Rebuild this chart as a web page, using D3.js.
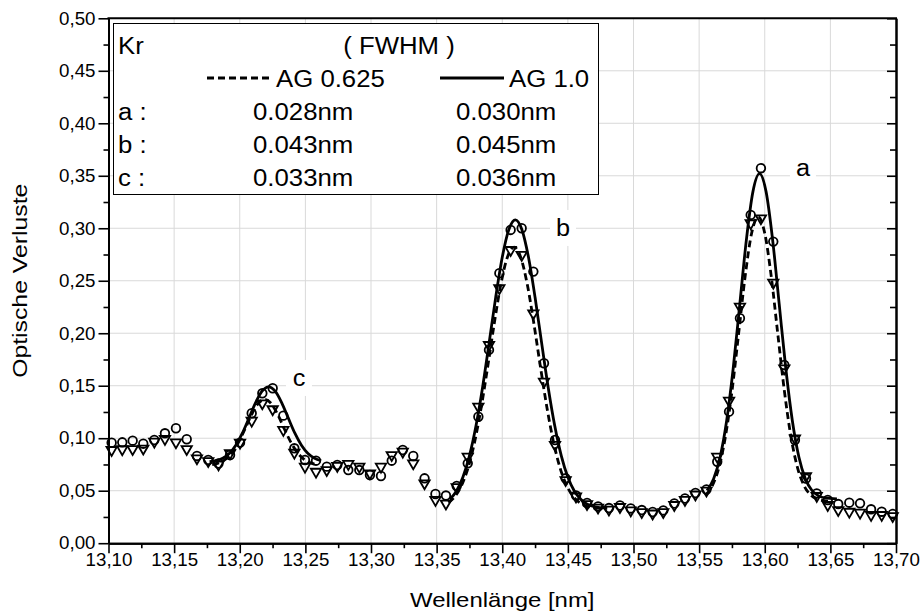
<!DOCTYPE html>
<html>
<head>
<meta charset="utf-8">
<script src="https://cdn.jsdelivr.net/npm/d3@7"></script>
<style>
	body { margin: 0; background: #fff; }
	svg text { font-family: "Liberation Sans", Arial, sans-serif; fill: #000; }
</style>
</head>
<body>
<svg id="chart" width="921" height="614"></svg>
<script>
var wavelength = [13.1024, 13.1105, 13.1184, 13.1265, 13.1349, 13.1430, 13.1514, 13.1596, 13.1674, 13.1760,
	13.1838, 13.1926, 13.2002, 13.2091, 13.2172, 13.2251, 13.2332, 13.2416, 13.2497, 13.2581,
	13.2663, 13.2743, 13.2827, 13.2911, 13.2992, 13.3076, 13.3158, 13.3242, 13.3322, 13.3408,
	13.3491, 13.3571, 13.3653, 13.3737, 13.3818, 13.3899, 13.3978, 13.4064, 13.4148, 13.4237,
	13.4318, 13.4402, 13.4483, 13.4562, 13.4646, 13.4730, 13.4813, 13.4897, 13.4979, 13.5063,
	13.5146, 13.5227, 13.5311, 13.5392, 13.5472, 13.5556, 13.5638, 13.5728, 13.5811, 13.5893,
	13.5971, 13.6065, 13.6149, 13.6230, 13.6314, 13.6396, 13.6480, 13.6560, 13.6644, 13.6726,
	13.6810, 13.6891, 13.6975];
// circles (AG 1.0)
var lossAG10 = [0.0958, 0.0961, 0.0977, 0.0948, 0.0983, 0.1047, 0.1095, 0.0990, 0.0831, 0.0793,
	0.0759, 0.0840, 0.0958, 0.1238, 0.1428, 0.1476, 0.1215, 0.0904, 0.0793, 0.0786,
	0.0729, 0.0745, 0.0697, 0.0697, 0.0650, 0.0640, 0.0786, 0.0888, 0.0831, 0.0618,
	0.0469, 0.0454, 0.0545, 0.0761, 0.1205, 0.1841, 0.2572, 0.2984, 0.3000, 0.2587,
	0.1714, 0.0983, 0.0618, 0.0454, 0.0383, 0.0350, 0.0335, 0.0359, 0.0331, 0.0316,
	0.0297, 0.0312, 0.0378, 0.0426, 0.0478, 0.0512, 0.0776, 0.1253, 0.2143, 0.3127,
	0.3572, 0.2873, 0.1698, 0.0983, 0.0616, 0.0475, 0.0412, 0.0373, 0.0386, 0.0380,
	0.0323, 0.0300, 0.0278];
// triangles (AG 0.625)
var lossAG0625 = [0.0888, 0.0895, 0.0897, 0.0902, 0.0967, 0.0993, 0.0961, 0.0897, 0.0809, 0.0783,
	0.0750, 0.0857, 0.0958, 0.1167, 0.1333, 0.1276, 0.1079, 0.0862, 0.0729, 0.0681,
	0.0697, 0.0736, 0.0755, 0.0729, 0.0666, 0.0729, 0.0840, 0.0872, 0.0761, 0.0571,
	0.0412, 0.0378, 0.0535, 0.0824, 0.1301, 0.1888, 0.2429, 0.2793, 0.2746, 0.2190,
	0.1539, 0.0936, 0.0602, 0.0445, 0.0373, 0.0340, 0.0321, 0.0345, 0.0312, 0.0297,
	0.0283, 0.0297, 0.0364, 0.0412, 0.0464, 0.0502, 0.0824, 0.1358, 0.2253, 0.3048,
	0.3095, 0.2482, 0.1666, 0.0999, 0.0640, 0.0450, 0.0364, 0.0316, 0.0300, 0.0291,
	0.0269, 0.0269, 0.0259];

// fitted curves
var fitC10X = [13.177, 13.182, 13.187, 13.192, 13.197, 13.202, 13.207, 13.212, 13.217, 13.222, 13.227, 13.232, 13.237, 13.242, 13.247, 13.252, 13.257, 13.262];
var fitC10Y = [0.0776, 0.0786, 0.0809, 0.0854, 0.0933, 0.1048, 0.1191, 0.1337, 0.1448, 0.1490, 0.1448, 0.1337, 0.1191, 0.1048, 0.0933, 0.0854, 0.0809, 0.0786];
var fitC0625X = [13.179, 13.184, 13.189, 13.194, 13.199, 13.204, 13.209, 13.214, 13.219, 13.224, 13.229, 13.234, 13.239, 13.244, 13.249, 13.254, 13.259];
var fitC0625Y = [0.0749, 0.0765, 0.0799, 0.0862, 0.0960, 0.1088, 0.1224, 0.1330, 0.1370, 0.1330, 0.1224, 0.1088, 0.0960, 0.0862, 0.0799, 0.0765, 0.0749];
var fitB10X = [13.360, 13.365, 13.370, 13.375, 13.380, 13.385, 13.390, 13.395, 13.400, 13.405, 13.410, 13.415, 13.420, 13.425, 13.430, 13.435, 13.440, 13.445, 13.450, 13.455, 13.460, 13.470, 13.480];
var fitB10Y = [0.0416, 0.0495, 0.0628, 0.0832, 0.1118, 0.1484, 0.1908, 0.2342, 0.2723, 0.2986, 0.3080, 0.2986, 0.2723, 0.2342, 0.1908, 0.1484, 0.1118, 0.0832, 0.0628, 0.0495, 0.0416, 0.0348, 0.0333];
var fitB0625X = [13.359, 13.364, 13.369, 13.374, 13.379, 13.384, 13.389, 13.394, 13.399, 13.404, 13.409, 13.414, 13.419, 13.424, 13.429, 13.434, 13.439, 13.444, 13.449, 13.454, 13.459, 13.469, 13.479];
var fitB0625Y = [0.0386, 0.0446, 0.0551, 0.0719, 0.0967, 0.1296, 0.1688, 0.2100, 0.2470, 0.2727, 0.2820, 0.2727, 0.2470, 0.2100, 0.1688, 0.1296, 0.0967, 0.0719, 0.0551, 0.0446, 0.0386, 0.0337, 0.0330];
var fitA10X = [13.556, 13.561, 13.566, 13.571, 13.576, 13.581, 13.586, 13.591, 13.596, 13.601, 13.606, 13.611, 13.616, 13.621, 13.626, 13.631, 13.636, 13.641, 13.646, 13.655];
var fitA10Y = [0.0502, 0.0612, 0.0821, 0.1169, 0.1669, 0.2279, 0.2890, 0.3349, 0.3520, 0.3349, 0.2890, 0.2279, 0.1669, 0.1169, 0.0821, 0.0612, 0.0502, 0.0451, 0.0431, 0.0422];
var fitA0625X = [13.555, 13.560, 13.565, 13.570, 13.575, 13.580, 13.585, 13.590, 13.595, 13.600, 13.605, 13.610, 13.615, 13.620, 13.625, 13.630, 13.635, 13.640, 13.645, 13.650];
var fitA0625Y = [0.0460, 0.0547, 0.0718, 0.1012, 0.1446, 0.1986, 0.2536, 0.2953, 0.3110, 0.2953, 0.2536, 0.1986, 0.1446, 0.1012, 0.0718, 0.0547, 0.0460, 0.0421, 0.0405, 0.0400];

var xTicks = [13.10, 13.15, 13.20, 13.25, 13.30, 13.35, 13.40, 13.45, 13.50, 13.55, 13.60, 13.65, 13.70];
var yTicks = [0.00, 0.05, 0.10, 0.15, 0.20, 0.25, 0.30, 0.35, 0.40, 0.45, 0.50];
var peakNames = ["a", "b", "c"];
var legendRows = ["a :", "b :", "c :"];
var fwhmAG0625 = ["0.028nm", "0.043nm", "0.033nm"];
var fwhmAG10 = ["0.030nm", "0.045nm", "0.036nm"];

drawChart();

function drawChart() {
	var left = 108.5, right = 896, top = 18.3, bottom = 543.2;
	var svg = d3.select("#chart");

	var x = d3.scaleLinear().domain([13.10, 13.70]).range([left, right]);
	var y = d3.scaleLinear().domain([0, 0.50]).range([bottom, top]);
	var comma = function(d) { return d3.format(".2f")(d).replace(".", ","); };

	// stretch glyphs a bit wider, the source font runs wide
	function stretch(sel, k) {
		sel.each(function() {
			var w = this.getComputedTextLength();
			d3.select(this).attr("textLength", w * k).attr("lengthAdjust", "spacingAndGlyphs");
		});
	}

	// grid
	var grid = svg.append("g").attr("stroke", "#d9d9d9").attr("stroke-width", 1);
	grid.selectAll(".gx").data(xTicks.slice(1, -1)).enter().append("line")
		.attr("x1", function(d) { return x(d); }).attr("x2", function(d) { return x(d); })
		.attr("y1", top).attr("y2", bottom);
	grid.selectAll(".gy").data(yTicks.slice(1, -1)).enter().append("line")
		.attr("y1", function(d) { return y(d); }).attr("y2", function(d) { return y(d); })
		.attr("x1", left).attr("x2", right);

	// peak labels with white patches over the grid
	var peakPos = [[13.6291, 0.3575], [13.4463, 0.3003], [13.2451, 0.1574]];
	var peaks = svg.append("g").selectAll("g").data(peakNames).enter().append("g")
		.attr("transform", function(d, i) { return "translate(" + x(peakPos[i][0]) + "," + y(peakPos[i][1]) + ")"; });
	peaks.append("rect").attr("x", -13).attr("y", -18).attr("width", 26).attr("height", 36).attr("fill", "#fff");
	peaks.append("text").attr("text-anchor", "middle").attr("y", 8).style("font-size", "23px")
		.text(function(d) { return d; }).call(stretch, 1.1);

	// fit curves
	var line = d3.line()
		.x(function(d) { return x(d[0]); })
		.y(function(d) { return y(d[1]); })
		.curve(d3.curveMonotoneX);
	var fits = [
		[fitC10X, fitC10Y, false], [fitB10X, fitB10Y, false], [fitA10X, fitA10Y, false],
		[fitC0625X, fitC0625Y, true], [fitB0625X, fitB0625Y, true], [fitA0625X, fitA0625Y, true]
	];
	fits.forEach(function(f) {
		svg.append("path")
			.datum(d3.zip(f[0], f[1]))
			.attr("d", line)
			.attr("fill", "none")
			.attr("stroke", "#000")
			.attr("stroke-width", 2.8)
			.attr("stroke-dasharray", f[2] ? "7,4" : null);
	});

	// markers
	var tri = d3.symbol().type(d3.symbolTriangle).size(46);
	svg.append("g").selectAll("path").data(d3.zip(wavelength, lossAG0625)).enter().append("path")
		.attr("d", tri)
		.attr("transform", function(d) { return "translate(" + x(d[0]) + "," + y(d[1]) + ") rotate(180)"; })
		.attr("fill", "none").attr("stroke", "#000").attr("stroke-width", 1.8);
	svg.append("g").selectAll("circle").data(d3.zip(wavelength, lossAG10)).enter().append("circle")
		.attr("cx", function(d) { return x(d[0]); })
		.attr("cy", function(d) { return y(d[1]); })
		.attr("r", 4.3)
		.attr("fill", "none").attr("stroke", "#000").attr("stroke-width", 1.8);

	// legend box
	var lg = svg.append("g");
	lg.append("rect").attr("x", 113.5).attr("y", 23.5).attr("width", 485).attr("height", 171)
		.attr("fill", "#fff").attr("stroke", "#000").attr("stroke-width", 1);
	lg.append("text").attr("x", 118).attr("y", 54).text("Kr");
	lg.append("text").attr("x", 399).attr("y", 54).attr("text-anchor", "middle").text("( FWHM )");
	lg.append("line").attr("x1", 207).attr("x2", 269).attr("y1", 78).attr("y2", 78)
		.attr("stroke", "#000").attr("stroke-width", 2.8).attr("stroke-dasharray", "7,4");
	lg.append("text").attr("x", 276).attr("y", 87).text("AG 0.625");
	lg.append("line").attr("x1", 440).attr("x2", 504).attr("y1", 78).attr("y2", 78)
		.attr("stroke", "#000").attr("stroke-width", 2.8);
	lg.append("text").attr("x", 509).attr("y", 87).text("AG 1.0");
	legendRows.forEach(function(r, i) {
		var ty = 120 + i * 33;
		lg.append("text").attr("x", 118).attr("y", ty).text(r);
		lg.append("text").attr("x", 253).attr("y", ty).text(fwhmAG0625[i]);
		lg.append("text").attr("x", 456).attr("y", ty).text(fwhmAG10[i]);
	});
	lg.selectAll("text").style("font-size", "23px").call(stretch, 1.12);

	// axes
	var minorX = xTicks.slice(0, -1).map(function(d) { return d + 0.025; });
	var minorY = yTicks.slice(0, -1).map(function(d) { return d + 0.025; });

	svg.append("g").attr("transform", "translate(0," + bottom + ")")
		.call(d3.axisBottom(x).tickValues(xTicks).tickSize(10).tickSizeOuter(0).tickPadding(0).tickFormat(comma));
	svg.append("g").attr("transform", "translate(0," + bottom + ")")
		.call(d3.axisBottom(x).tickValues(minorX).tickSize(5).tickSizeOuter(0).tickFormat(""));
	svg.append("g").attr("transform", "translate(" + left + ",0)")
		.call(d3.axisLeft(y).tickValues(yTicks).tickSize(10).tickSizeOuter(0).tickPadding(3).tickFormat(comma));
	svg.append("g").attr("transform", "translate(" + left + ",0)")
		.call(d3.axisLeft(y).tickValues(minorY).tickSize(5).tickSizeOuter(0).tickFormat(""));
	// right side, ticks point inward
	svg.append("g").attr("transform", "translate(" + right + ",0)")
		.call(d3.axisLeft(y).tickValues(yTicks).tickSize(9).tickSizeOuter(0).tickFormat(""));
	svg.append("g").attr("transform", "translate(" + right + ",0)")
		.call(d3.axisLeft(y).tickValues(minorY).tickSize(6).tickSizeOuter(0).tickFormat(""));
	svg.append("line").attr("x1", left - 1).attr("x2", right + 1).attr("y1", top).attr("y2", top)
		.attr("stroke", "#000").attr("stroke-width", 2);

	svg.selectAll(".domain").attr("stroke", "#000").attr("stroke-width", 2);
	svg.selectAll(".tick line").attr("stroke", "#000").attr("stroke-width", 1.6);
	svg.selectAll(".tick text").style("font-size", "18px")
		.style("font-family", "\"Liberation Sans\", Arial, sans-serif").attr("fill", "#000")
		.call(stretch, 1.04);

	// axis titles
	svg.append("text").attr("x", (left + right) / 2).attr("y", 607).attr("text-anchor", "middle")
		.style("font-size", "21px").text("Wellenlänge [nm]").call(stretch, 1.14);
	svg.append("text").attr("transform", "translate(27," + ((top + bottom) / 2) + ") rotate(-90)")
		.attr("text-anchor", "middle").style("font-size", "21px").text("Optische Verluste").call(stretch, 1.18);
}
</script>
</body>
</html>
